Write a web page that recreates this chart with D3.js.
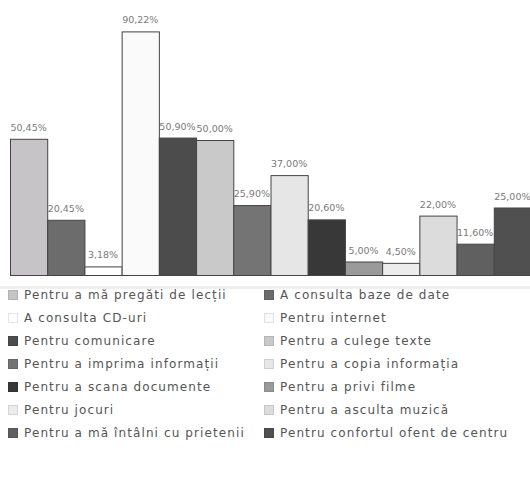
<!DOCTYPE html>
<html>
<head>
<meta charset="utf-8">
<script src="https://cdn.jsdelivr.net/npm/d3@7"></script>
<style>
  body { margin: 0; background: #fff; }
  svg { display: block; }
</style>
</head>
<body>
<div id="chart"></div>
<script>
// categories, in legend order (row by row)
const categories = [
  "Pentru a mă pregăti de lecții",
  "A consulta baze de date",
  "A consulta CD-uri",
  "Pentru internet",
  "Pentru comunicare",
  "Pentru a culege texte",
  "Pentru a imprima informații",
  "Pentru a copia informația",
  "Pentru a scana documente",
  "Pentru a privi filme",
  "Pentru jocuri",
  "Pentru a asculta muzică",
  "Pentru a mă întâlni cu prietenii",
  "Pentru confortul ofent de centru"
];
const values = [50.45, 20.45, 3.18, 90.22, 50.90, 50.00, 25.90, 37.00, 20.60, 5.00, 4.50, 22.00, 11.60, 25.00];
const colors = ["#c6c4c6", "#6c6c6c", "#ffffff", "#fafafa", "#4c4c4c", "#c9c9c9", "#747474",
                "#e6e6e6", "#383838", "#9a9a9a", "#ececec", "#dcdcdc", "#606060", "#505050"];

const width = 530, height = 482;
const svg = d3.select("#chart").append("svg")
  .attr("width", width)
  .attr("height", height);

const x = d3.scaleBand()
  .domain(d3.range(values.length))
  .range([10, 531])
  .paddingInner(0);

const y = d3.scaleLinear()
  .domain([0, 100])
  .range([275, 5]);

const fmt = v => d3.format(".2f")(v).replace(".", ",") + "%";

// bars
svg.append("g").selectAll("rect")
  .data(values)
  .enter().append("rect")
  .attr("x", (d, i) => x(i) + 0.5)
  .attr("y", d => y(d) + 0.5)
  .attr("width", x.bandwidth())
  .attr("height", d => y(0) - y(d))
  .attr("fill", (d, i) => colors[i])
  .attr("stroke", "#444")
  .attr("stroke-width", 1);

// value labels
svg.append("g").selectAll("text")
  .data(values)
  .enter().append("text")
  .attr("x", (d, i) => x(i) + x.bandwidth() / 2)
  .attr("y", d => y(d) - 8)
  .attr("text-anchor", "middle")
  .attr("font-family", "DejaVu Sans, sans-serif")
  .attr("font-size", "9.5px")
  .attr("fill", "#7a7a7a")
  .text(d => fmt(d));

// faint scan strip under the plot
svg.append("rect")
  .attr("x", 0).attr("y", 286)
  .attr("width", width).attr("height", 3)
  .attr("fill", "#f0f0f0");

// legend, two columns
const legend = svg.append("g");
const rowH = 23, row0 = 299;
const item = legend.selectAll("g")
  .data(categories)
  .enter().append("g")
  .attr("transform", (d, i) => {
    const col = i % 2, row = Math.floor(i / 2);
    return `translate(${col ? 264 : 8},${row0 + row * rowH})`;
  });

item.append("rect")
  .attr("x", 0.5).attr("y", -8.5)
  .attr("width", 9).attr("height", 9)
  .attr("fill", (d, i) => colors[i])
  .attr("stroke", (d, i) => d3.color(colors[i]).darker(0.3))
  .attr("stroke-width", 1);

item.append("text")
  .attr("x", 16)
  .attr("y", 0)
  .attr("font-family", "DejaVu Sans, sans-serif")
  .attr("font-size", "12px")
  .attr("letter-spacing", "1.1px")
  .attr("fill", "#555")
  .text(d => d);
</script>
</body>
</html>
